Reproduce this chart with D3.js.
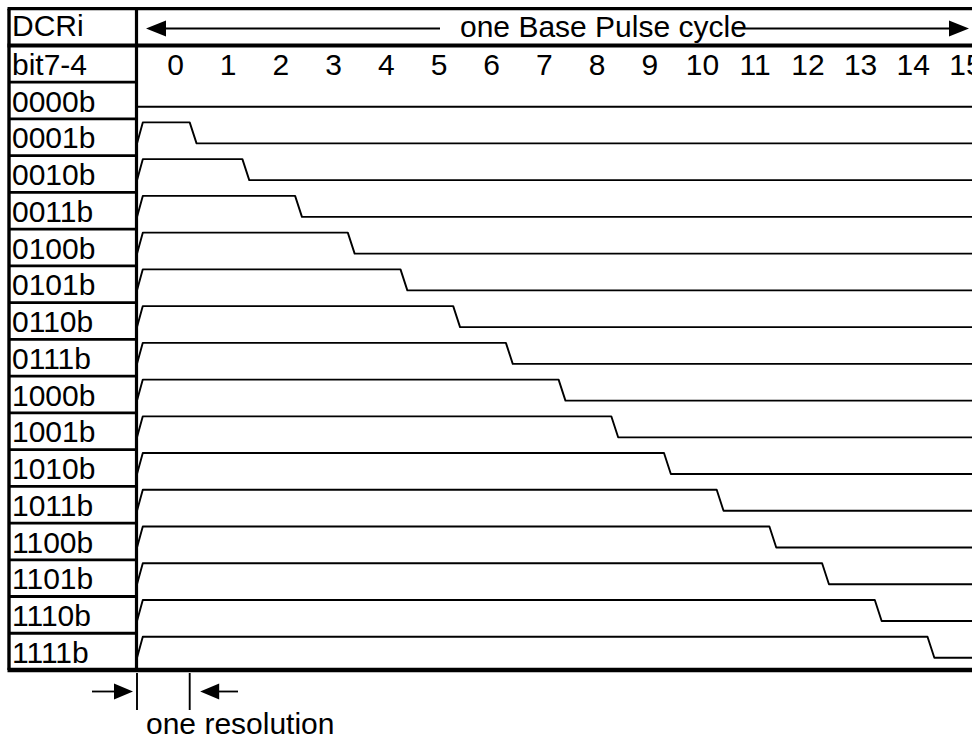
<!DOCTYPE html>
<html>
<head>
<meta charset="utf-8">
<script src="https://cdn.jsdelivr.net/npm/d3@7"></script>
<style>
  body { margin: 0; background: #fff; }
  svg { display: block; font-family: "Liberation Sans", Arial, sans-serif; }
</style>
</head>
<body>
<div id="chart-area"></div>
<script>
// register codes (bit7-4) and the number of resolution steps the output stays high
var codes = ["0000b", "0001b", "0010b", "0011b", "0100b", "0101b", "0110b", "0111b",
             "1000b", "1001b", "1010b", "1011b", "1100b", "1101b", "1110b", "1111b"];
var highSteps = [0, 1, 2, 3, 4, 5, 6, 7, 8, 9, 10, 11, 12, 13, 14, 15];
var stepLabels = ["0", "1", "2", "3", "4", "5", "6", "7", "8", "9", "10", "11", "12", "13", "14", "15"];
var headerRows = ["DCRi", "bit7-4"];

var width = 972, height = 740;

var svg = d3.select("#chart-area")
  .append("svg")
    .attr("width", width)
    .attr("height", height);

// time scale: one unit = one resolution step
var x = d3.scaleLinear()
    .domain([0, 16])
    .range([137, 137 + 52.7 * 16]);

// one band per table row
var y = d3.scaleBand()
    .domain(headerRows.concat(codes))
    .range([8.7, 670]);

// ----- waveforms
var line = d3.line()
    .x(function(p) { return x(p[0]); })
    .y(function(p) { return p[1]; });

codes.forEach(function(c, i) {
  var top = y(c);
  var hi = top + 3.5, lo = top + 24.5;
  var d = highSteps[i];
  var pts;
  if (d === 0) {
    pts = [[0, lo], [16, lo]];
  } else {
    pts = [[0, lo], [0.11, hi], [d, hi], [d + 0.13, lo], [16, lo]];
  }
  svg.append("path")
    .attr("d", line(pts))
    .attr("fill", "none")
    .attr("stroke", "#000")
    .attr("stroke-width", 1.9)
    .attr("stroke-linejoin", "round");
});

// ----- table frame
var left = 9, colSep = 136.5;

// left column row separators
y.domain().forEach(function(r, i) {
  if (i < 2) return;
  svg.append("line")
    .attr("x1", left).attr("x2", colSep)
    .attr("y1", y(r)).attr("y2", y(r))
    .attr("stroke", "#000").attr("stroke-width", 2.8);
});

// thick lines
svg.append("line").attr("x1", left - 1.5).attr("x2", width).attr("y1", 8.7).attr("y2", 8.7)
  .attr("stroke", "#000").attr("stroke-width", 3.2);
svg.append("line").attr("x1", left - 1.5).attr("x2", width).attr("y1", y("bit7-4")).attr("y2", y("bit7-4"))
  .attr("stroke", "#000").attr("stroke-width", 4);
svg.append("line").attr("x1", left - 1.5).attr("x2", width).attr("y1", 670).attr("y2", 670)
  .attr("stroke", "#000").attr("stroke-width", 4.5);
svg.append("line").attr("x1", left).attr("x2", left).attr("y1", 8.7).attr("y2", 670)
  .attr("stroke", "#000").attr("stroke-width", 3.4);
svg.append("line").attr("x1", colSep).attr("x2", colSep).attr("y1", 8.7).attr("y2", 670)
  .attr("stroke", "#000").attr("stroke-width", 3.2);

// ----- left column labels
svg.selectAll(".rowlabel")
  .data(headerRows.concat(codes))
  .enter()
  .append("text")
    .attr("class", "rowlabel")
    .attr("x", 12)
    .attr("y", function(d, i) { return y(d) + (i === 0 ? 27.5 : 29.5); })
    .attr("font-size", "30px")
    .text(function(d) { return d; });

// ----- step numbers
svg.selectAll(".step")
  .data(stepLabels)
  .enter()
  .append("text")
    .attr("class", "step")
    .attr("x", function(d, i) { return x(i) + 38.5; })
    .attr("y", y("bit7-4") + 29.5)
    .attr("text-anchor", "middle")
    .attr("font-size", "30px")
    .text(function(d) { return d; });

// ----- header arrow
var ay = 28.5;
function arrowHead(tipX, tipY, dir, len, half) {
  var bx = tipX - dir * len;
  return "M" + tipX + "," + tipY + "L" + bx + "," + (tipY - half) + "L" + bx + "," + (tipY + half) + "Z";
}
svg.append("line").attr("x1", 160).attr("x2", 440).attr("y1", ay).attr("y2", ay)
  .attr("stroke", "#000").attr("stroke-width", 1.8);
svg.append("line").attr("x1", 735).attr("x2", 955).attr("y1", ay).attr("y2", ay)
  .attr("stroke", "#000").attr("stroke-width", 1.8);
svg.append("path").attr("d", arrowHead(146, ay, -1, 20, 8)).attr("fill", "#000");
svg.append("path").attr("d", arrowHead(969, ay, 1, 20, 8)).attr("fill", "#000");
svg.append("text")
  .attr("x", 460)
  .attr("y", 36.5)
  .attr("font-size", "30px")
  .text("one Base Pulse cycle");

// ----- "one resolution" marker
var my = 691.5;
[x(0), x(1)].forEach(function(v) {
  svg.append("line").attr("x1", v).attr("x2", v).attr("y1", 673).attr("y2", 710)
    .attr("stroke", "#000").attr("stroke-width", 1.9);
});
svg.append("line").attr("x1", 92).attr("x2", 118).attr("y1", my).attr("y2", my)
  .attr("stroke", "#000").attr("stroke-width", 1.8);
svg.append("path").attr("d", arrowHead(x(0) - 4, my, 1, 19, 8)).attr("fill", "#000");
svg.append("line").attr("x1", 212).attr("x2", 238).attr("y1", my).attr("y2", my)
  .attr("stroke", "#000").attr("stroke-width", 1.8);
svg.append("path").attr("d", arrowHead(x(1) + 10.5, my, -1, 19, 8)).attr("fill", "#000");
svg.append("text")
  .attr("x", 146)
  .attr("y", 734)
  .attr("font-size", "30px")
  .text("one resolution");
</script>
</body>
</html>
